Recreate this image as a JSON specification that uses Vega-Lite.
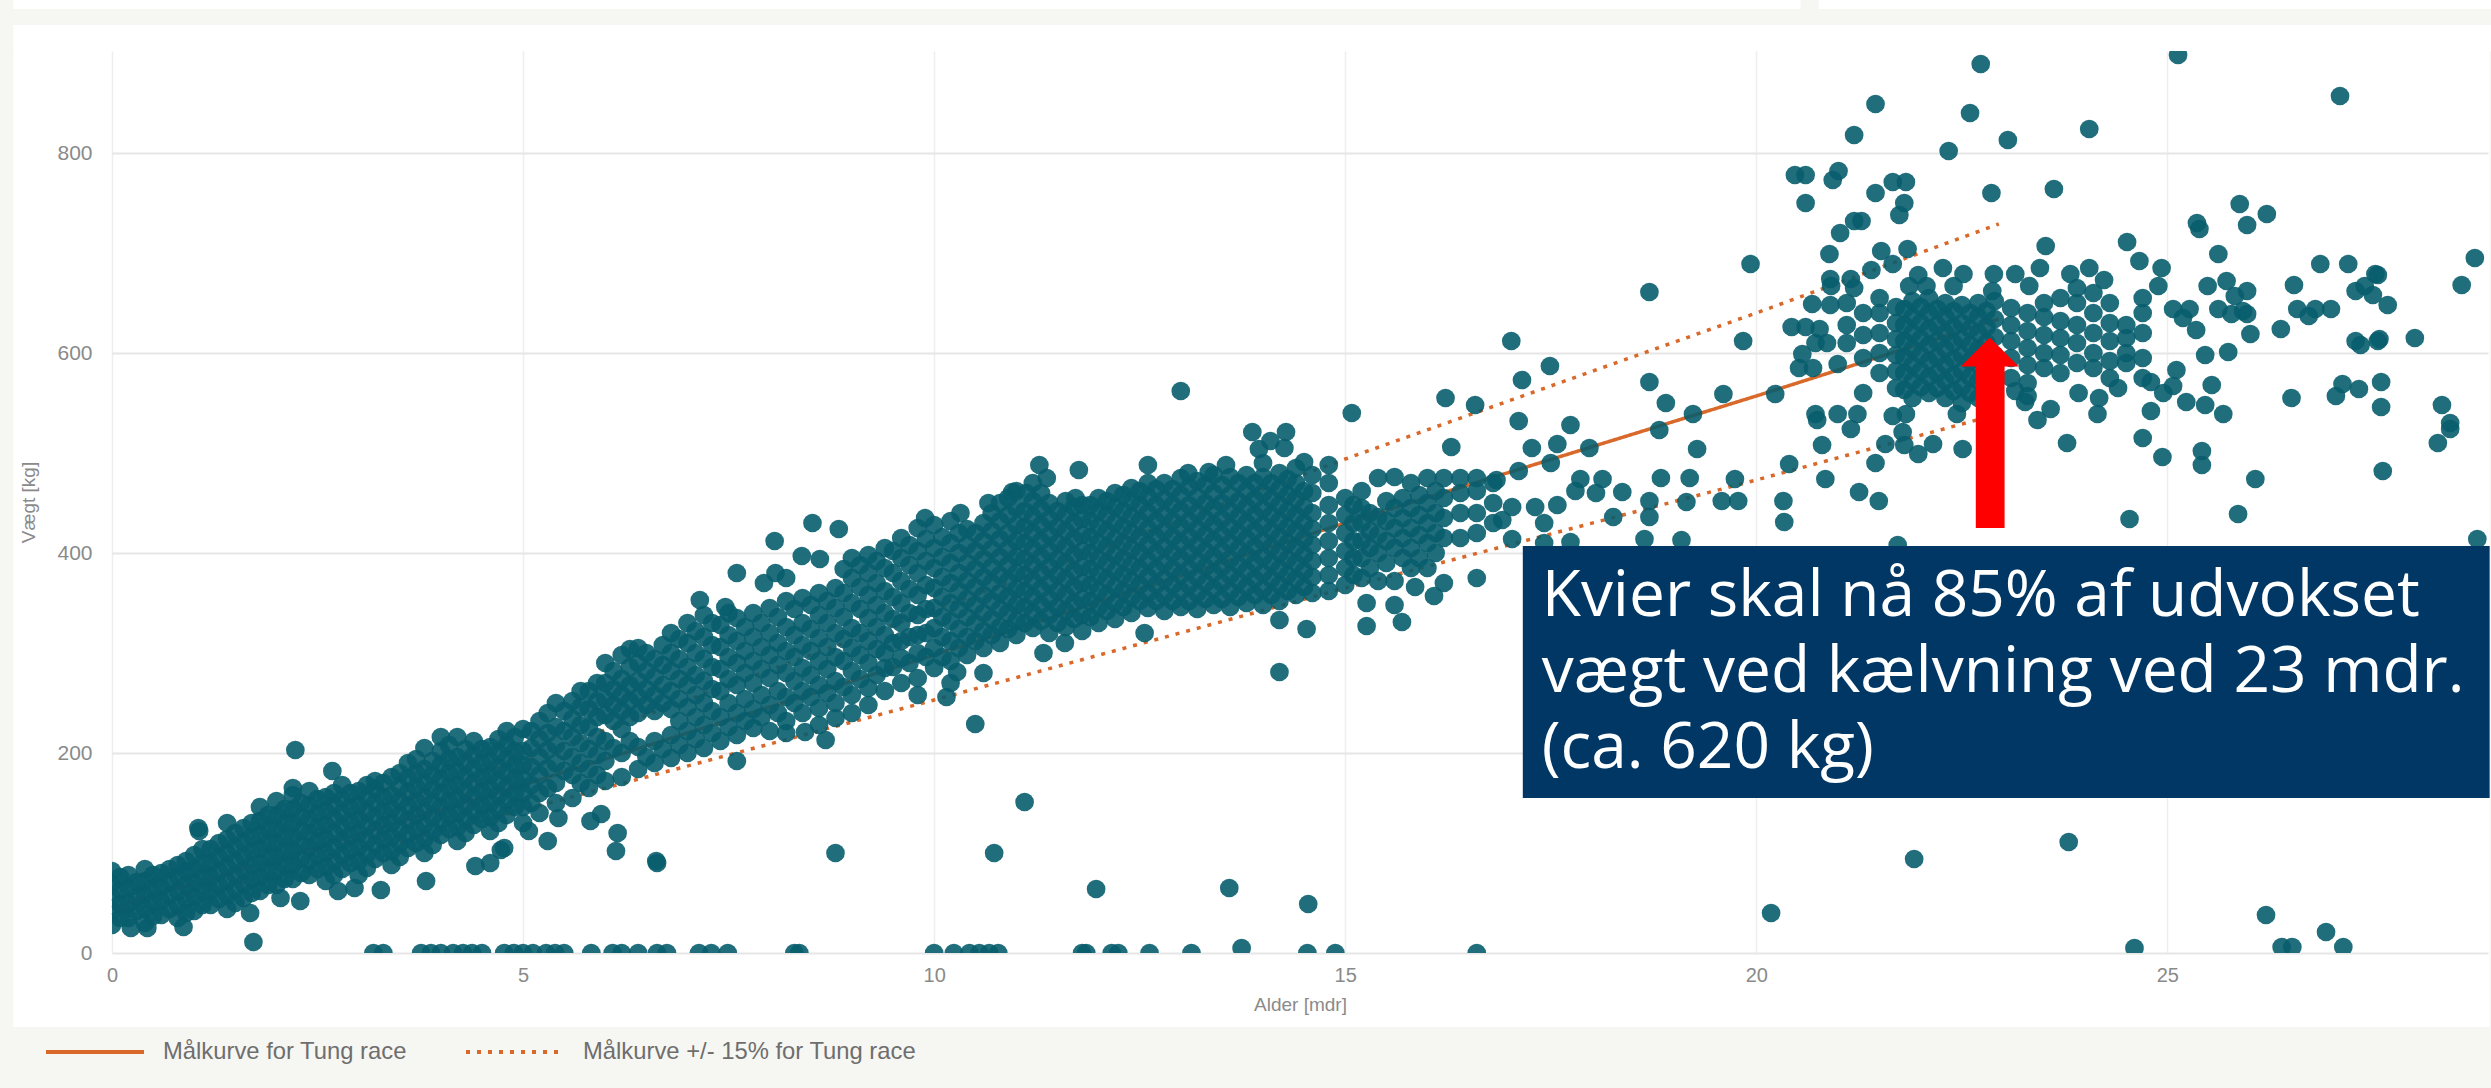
{"$schema":"https://vega.github.io/schema/vega-lite/v6.json","width":2376,"height":902,"autosize":{"type":"none"},"padding":{"left":112,"top":51,"right":3,"bottom":135},"background":"#ffffff","config":{"view":{"stroke":null},"font":"Liberation Sans"},
"encoding":{"x":{"field":"a","type":"quantitative","scale":{"domain":[0,28.9],"nice":false,"zero":false},"axis":{"title":"Alder [mdr]","values":[0,5,10,15,20,25],"grid":true,"gridColor":"#eeeeee","gridWidth":1.5,"domain":false,"ticks":false,"labelFlush":false,"labelPadding":12,"labelFontSize":20,"labelColor":"#8a8a8a","titleFontSize":19,"titleFontWeight":"normal","titleColor":"#8a8a8a","titlePadding":10,"labelFont":"Liberation Sans"}},"y":{"field":"w","type":"quantitative","scale":{"domain":[0,902],"nice":false,"zero":false},"axis":{"title":"Vægt [kg]","values":[0,200,400,600,800],"grid":true,"gridColor":"#e6e6e6","gridWidth":2,"domain":false,"ticks":false,"labelFlush":false,"labelPadding":20,"labelFontSize":21,"labelColor":"#8a8a8a","titleFontSize":19,"titleFontWeight":"normal","titleColor":"#8a8a8a","titlePadding":18,"labelFont":"Liberation Sans"}}},
"layer":[
{"data":{"values":[{"a":-1.37,"a2":28.97,"w":-74,"w2":-135},{"a":-1.37,"a2":-1.2,"w":902,"w2":-135},{"a":-1.37,"a2":28.97,"w":944,"w2":928},{"a":28.92,"a2":28.97,"w":902,"w2":-135},{"a":20.54,"a2":20.76,"w":953,"w2":944},{"a":-1.37,"a2":-1.2,"w":953,"w2":900}]},"mark":{"type":"rect","color":"#f6f6f2"},"encoding":{"x2":{"field":"a2"},"y2":{"field":"w2"}}},
{"data":{"values":[
{"s":"Målkurve for Tung race","c":"m","a":0,"w":45},{"s":"Målkurve for Tung race","c":"m","a":5,"w":168},{"s":"Målkurve for Tung race","c":"m","a":10,"w":298},{"s":"Målkurve for Tung race","c":"m","a":15,"w":430},{"s":"Målkurve for Tung race","c":"m","a":20,"w":557},{"s":"Målkurve for Tung race","c":"m","a":22.95,"w":634},
{"s":"Målkurve +/- 15% for Tung race","c":"u","a":0,"w":52},{"s":"Målkurve +/- 15% for Tung race","c":"u","a":5,"w":193},{"s":"Målkurve +/- 15% for Tung race","c":"u","a":10,"w":343},{"s":"Målkurve +/- 15% for Tung race","c":"u","a":15,"w":494},{"s":"Målkurve +/- 15% for Tung race","c":"u","a":20,"w":640},{"s":"Målkurve +/- 15% for Tung race","c":"u","a":22.95,"w":729},
{"s":"Målkurve +/- 15% for Tung race","c":"l","a":0,"w":38},{"s":"Målkurve +/- 15% for Tung race","c":"l","a":5,"w":143},{"s":"Målkurve +/- 15% for Tung race","c":"l","a":10,"w":253},{"s":"Målkurve +/- 15% for Tung race","c":"l","a":15,"w":365},{"s":"Målkurve +/- 15% for Tung race","c":"l","a":20,"w":473},{"s":"Målkurve +/- 15% for Tung race","c":"l","a":22.95,"w":539}]},
"mark":{"type":"line","color":"#d9682b","strokeWidth":3.5},"encoding":{"detail":{"field":"c"},"strokeDash":{"field":"s","type":"nominal","scale":{"domain":["Målkurve for Tung race","Målkurve +/- 15% for Tung race"],"range":[[1,0],[4,7]]},"legend":{"title":null,"orient":"none","legendX":-68,"legendY":950,"direction":"horizontal","columns":2,"symbolType":"stroke","symbolSize":9604,"symbolStrokeWidth":4,"symbolStrokeColor":"#d9682b","labelFontSize":23.8,"labelColor":"#6e6e6e","labelLimit":700,"labelOffset":17,"columnPadding":51,"padding":0}}}},
{"data":{"values":[
{"a":3.18,"w":0},{"a":3.3,"w":0},{"a":3.76,"w":0},{"a":3.88,"w":0},{"a":4,"w":0},{"a":4.15,"w":0},{"a":4.27,"w":0},{"a":4.38,"w":0},{"a":4.5,"w":0},{"a":4.77,"w":0},{"a":4.89,"w":0},{"a":5,"w":0},{"a":5.12,"w":0},{"a":5.28,"w":0},{"a":5.39,"w":0},{"a":5.5,"w":0},{"a":5.83,"w":0},{"a":6.09,"w":0},{"a":6.2,"w":0},{"a":6.4,"w":0},{"a":6.63,"w":0},{"a":6.75,"w":0},{"a":7.14,"w":0},{"a":7.29,"w":0},{"a":7.49,"w":0},{"a":8.3,"w":0},{"a":8.36,"w":0},{"a":10,"w":0},{"a":10.24,"w":0},{"a":10.43,"w":0},{"a":10.55,"w":0},{"a":10.67,"w":0},{"a":10.78,"w":0},{"a":11.8,"w":0},{"a":11.85,"w":0},{"a":12.16,"w":0},{"a":12.24,"w":0},{"a":12.62,"w":0},{"a":13.13,"w":0},{"a":13.74,"w":5},{"a":14.54,"w":0},{"a":14.88,"w":0},{"a":16.6,"w":0},
{"a":1.68,"w":40},{"a":1.72,"w":11},{"a":6.63,"w":90},{"a":8.8,"w":100},{"a":10.73,"w":100},{"a":11.1,"w":151},{"a":10.5,"w":229},{"a":11.97,"w":64},{"a":13.59,"w":65},{"a":14.55,"w":49},{"a":20.18,"w":40},{"a":21.92,"w":94},{"a":23.8,"w":111},{"a":24.6,"w":5},{"a":26.2,"w":38},{"a":26.39,"w":6},{"a":26.52,"w":6},{"a":26.93,"w":21},{"a":27.14,"w":6},
{"a":0.0,"w":28},{"a":0.0,"w":42},{"a":0.0,"w":56},{"a":0.0,"w":70},{"a":0.0,"w":82},{"a":0.2,"w":35},{"a":0.2,"w":50},{"a":0.2,"w":65},{"a":0.2,"w":78},{"a":0.4,"w":30},{"a":0.4,"w":44},{"a":0.4,"w":58},{"a":0.4,"w":72},{"a":0.4,"w":84},{"a":0.6,"w":38},{"a":0.6,"w":52},{"a":0.6,"w":66},{"a":0.6,"w":80},{"a":0.8,"w":35},{"a":0.8,"w":48},{"a":0.8,"w":62},{"a":0.8,"w":76},{"a":0.8,"w":88},{"a":1,"w":42},{"a":1,"w":56},{"a":1,"w":70},{"a":1,"w":84},{"a":1,"w":98},{"a":1.06,"w":122},{"a":1.2,"w":48},{"a":1.2,"w":62},{"a":1.2,"w":76},{"a":1.2,"w":90},{"a":1.2,"w":104},{"a":1.4,"w":44},{"a":1.4,"w":58},{"a":1.4,"w":72},{"a":1.4,"w":86},{"a":1.4,"w":100},{"a":1.4,"w":114},{"a":1.4,"w":130},{"a":1.6,"w":55},{"a":1.6,"w":69},{"a":1.6,"w":83},{"a":1.6,"w":97},{"a":1.6,"w":111},{"a":1.6,"w":125},{"a":1.8,"w":62},{"a":1.8,"w":76},{"a":1.8,"w":90},{"a":1.8,"w":104},{"a":1.8,"w":118},{"a":1.8,"w":132},{"a":1.8,"w":146},{"a":2,"w":68},{"a":2,"w":82},{"a":2,"w":96},{"a":2,"w":110},{"a":2,"w":124},{"a":2,"w":138},{"a":2,"w":152},{"a":2.2,"w":74},{"a":2.2,"w":88},{"a":2.2,"w":102},{"a":2.2,"w":116},{"a":2.2,"w":130},{"a":2.2,"w":144},{"a":2.2,"w":158},{"a":2.23,"w":203},{"a":2.4,"w":78},{"a":2.4,"w":92},{"a":2.4,"w":106},{"a":2.4,"w":120},{"a":2.4,"w":134},{"a":2.4,"w":148},{"a":2.4,"w":162},{"a":2.6,"w":72},{"a":2.6,"w":86},{"a":2.6,"w":100},{"a":2.6,"w":114},{"a":2.6,"w":128},{"a":2.6,"w":142},{"a":2.6,"w":156},{"a":2.68,"w":182},{"a":2.8,"w":84},{"a":2.8,"w":98},{"a":2.8,"w":112},{"a":2.8,"w":126},{"a":2.8,"w":140},{"a":2.8,"w":154},{"a":2.8,"w":168},{"a":3,"w":78},{"a":3,"w":92},{"a":3,"w":106},{"a":3,"w":120},{"a":3,"w":134},{"a":3,"w":148},{"a":3,"w":162},{"a":3.2,"w":94},{"a":3.2,"w":108},{"a":3.2,"w":122},{"a":3.2,"w":136},{"a":3.2,"w":150},{"a":3.2,"w":164},{"a":3.2,"w":172},{"a":3.4,"w":88},{"a":3.4,"w":102},{"a":3.4,"w":116},{"a":3.4,"w":130},{"a":3.4,"w":144},{"a":3.4,"w":158},{"a":3.4,"w":176},{"a":3.6,"w":105},{"a":3.6,"w":119},{"a":3.6,"w":133},{"a":3.6,"w":147},{"a":3.6,"w":161},{"a":3.6,"w":175},{"a":3.6,"w":190},{"a":3.8,"w":100},{"a":3.8,"w":114},{"a":3.8,"w":128},{"a":3.8,"w":142},{"a":3.8,"w":156},{"a":3.8,"w":170},{"a":3.8,"w":184},{"a":3.8,"w":205},{"a":4,"w":118},{"a":4,"w":132},{"a":4,"w":146},{"a":4,"w":160},{"a":4,"w":174},{"a":4,"w":188},{"a":4,"w":202},{"a":4,"w":216},{"a":4.2,"w":112},{"a":4.2,"w":126},{"a":4.2,"w":140},{"a":4.2,"w":154},{"a":4.2,"w":168},{"a":4.2,"w":182},{"a":4.2,"w":196},{"a":4.2,"w":216},{"a":4.4,"w":128},{"a":4.4,"w":142},{"a":4.4,"w":156},{"a":4.4,"w":170},{"a":4.4,"w":184},{"a":4.4,"w":198},{"a":4.4,"w":212},{"a":4.6,"w":122},{"a":4.6,"w":136},{"a":4.6,"w":150},{"a":4.6,"w":164},{"a":4.6,"w":178},{"a":4.6,"w":192},{"a":4.6,"w":206},{"a":4.8,"w":138},{"a":4.8,"w":152},{"a":4.8,"w":166},{"a":4.8,"w":180},{"a":4.8,"w":194},{"a":4.8,"w":208},{"a":4.8,"w":222},{"a":5,"w":130},{"a":5,"w":146},{"a":5,"w":160},{"a":5,"w":174},{"a":5,"w":188},{"a":5,"w":202},{"a":5,"w":224},
{"a":0.1,"w":35},{"a":0.1,"w":49},{"a":0.1,"w":63},{"a":0.1,"w":76},{"a":0.3,"w":42},{"a":0.3,"w":57},{"a":0.3,"w":71},{"a":0.5,"w":37},{"a":0.5,"w":51},{"a":0.5,"w":65},{"a":0.5,"w":78},{"a":0.7,"w":44},{"a":0.7,"w":58},{"a":0.7,"w":72},{"a":0.7,"w":84},{"a":0.9,"w":40},{"a":0.9,"w":54},{"a":0.9,"w":68},{"a":0.9,"w":82},{"a":0.9,"w":92},{"a":1.1,"w":48},{"a":1.1,"w":62},{"a":1.1,"w":76},{"a":1.1,"w":90},{"a":1.1,"w":104},{"a":1.3,"w":54},{"a":1.3,"w":68},{"a":1.3,"w":82},{"a":1.3,"w":96},{"a":1.3,"w":110},{"a":1.5,"w":50},{"a":1.5,"w":64},{"a":1.5,"w":78},{"a":1.5,"w":92},{"a":1.5,"w":106},{"a":1.5,"w":120},{"a":1.7,"w":60},{"a":1.7,"w":74},{"a":1.7,"w":88},{"a":1.7,"w":102},{"a":1.7,"w":116},{"a":1.7,"w":130},{"a":1.9,"w":68},{"a":1.9,"w":82},{"a":1.9,"w":96},{"a":1.9,"w":110},{"a":1.9,"w":124},{"a":1.9,"w":138},{"a":2.1,"w":74},{"a":2.1,"w":88},{"a":2.1,"w":102},{"a":2.1,"w":116},{"a":2.1,"w":130},{"a":2.1,"w":144},{"a":2.3,"w":80},{"a":2.3,"w":94},{"a":2.3,"w":108},{"a":2.3,"w":122},{"a":2.3,"w":136},{"a":2.3,"w":150},{"a":2.5,"w":84},{"a":2.5,"w":98},{"a":2.5,"w":112},{"a":2.5,"w":126},{"a":2.5,"w":140},{"a":2.5,"w":154},{"a":2.7,"w":78},{"a":2.7,"w":92},{"a":2.7,"w":106},{"a":2.7,"w":120},{"a":2.7,"w":134},{"a":2.7,"w":148},{"a":2.7,"w":160},{"a":2.9,"w":90},{"a":2.9,"w":104},{"a":2.9,"w":118},{"a":2.9,"w":132},{"a":2.9,"w":146},{"a":2.9,"w":160},{"a":3.1,"w":85},{"a":3.1,"w":99},{"a":3.1,"w":113},{"a":3.1,"w":127},{"a":3.1,"w":141},{"a":3.1,"w":155},{"a":3.1,"w":168},{"a":3.3,"w":100},{"a":3.3,"w":114},{"a":3.3,"w":128},{"a":3.3,"w":142},{"a":3.3,"w":156},{"a":3.3,"w":170},{"a":3.5,"w":96},{"a":3.5,"w":110},{"a":3.5,"w":124},{"a":3.5,"w":138},{"a":3.5,"w":152},{"a":3.5,"w":166},{"a":3.5,"w":180},{"a":3.7,"w":110},{"a":3.7,"w":124},{"a":3.7,"w":138},{"a":3.7,"w":152},{"a":3.7,"w":166},{"a":3.7,"w":180},{"a":3.7,"w":194},{"a":3.9,"w":108},{"a":3.9,"w":122},{"a":3.9,"w":136},{"a":3.9,"w":150},{"a":3.9,"w":164},{"a":3.9,"w":178},{"a":3.9,"w":192},{"a":4.1,"w":124},{"a":4.1,"w":138},{"a":4.1,"w":152},{"a":4.1,"w":166},{"a":4.1,"w":180},{"a":4.1,"w":194},{"a":4.1,"w":208},{"a":4.3,"w":120},{"a":4.3,"w":134},{"a":4.3,"w":148},{"a":4.3,"w":162},{"a":4.3,"w":176},{"a":4.3,"w":190},{"a":4.3,"w":204},{"a":4.5,"w":134},{"a":4.5,"w":148},{"a":4.5,"w":162},{"a":4.5,"w":176},{"a":4.5,"w":190},{"a":4.5,"w":204},{"a":4.7,"w":130},{"a":4.7,"w":144},{"a":4.7,"w":158},{"a":4.7,"w":172},{"a":4.7,"w":186},{"a":4.7,"w":200},{"a":4.7,"w":214},{"a":4.9,"w":146},{"a":4.9,"w":160},{"a":4.9,"w":174},{"a":4.9,"w":188},{"a":4.9,"w":202},{"a":4.9,"w":216},
{"a":0.87,"w":26},{"a":0.43,"w":25},{"a":0.23,"w":25},{"a":2.29,"w":52},{"a":2.05,"w":55},{"a":2.75,"w":62},{"a":2.95,"w":65},{"a":3.27,"w":63},{"a":3.82,"w":72},{"a":4.42,"w":87},{"a":4.6,"w":90},{"a":4.73,"w":103},{"a":4.77,"w":105},{"a":5.07,"w":122},{"a":5.3,"w":112},{"a":6.13,"w":102},{"a":6.15,"w":120},{"a":6.62,"w":92},{"a":5.82,"w":132},{"a":5.95,"w":139},{"a":5.43,"w":135},{"a":1.05,"w":125},{"a":2.2,"w":165},
{"a":5.1,"w":150},{"a":5.1,"w":168},{"a":5.1,"w":186},{"a":5.1,"w":205},{"a":5.1,"w":222},{"a":5.3,"w":165},{"a":5.3,"w":185},{"a":5.3,"w":203},{"a":5.3,"w":220},{"a":5.3,"w":240},{"a":5.5,"w":182},{"a":5.5,"w":202},{"a":5.5,"w":222},{"a":5.5,"w":242},{"a":5.7,"w":170},{"a":5.7,"w":190},{"a":5.7,"w":210},{"a":5.7,"w":228},{"a":5.7,"w":246},{"a":5.7,"w":262},{"a":5.9,"w":178},{"a":5.9,"w":198},{"a":5.9,"w":216},{"a":5.9,"w":236},{"a":5.9,"w":252},{"a":5.9,"w":270},{"a":6.1,"w":205},{"a":6.1,"w":232},{"a":6.1,"w":248},{"a":6.1,"w":264},{"a":6.1,"w":282},{"a":6.3,"w":212},{"a":6.3,"w":236},{"a":6.3,"w":252},{"a":6.3,"w":268},{"a":6.3,"w":286},{"a":6.3,"w":304},{"a":6.5,"w":196},{"a":6.5,"w":248},{"a":6.5,"w":264},{"a":6.5,"w":282},{"a":6.5,"w":300},{"a":6.7,"w":204},{"a":6.7,"w":250},{"a":6.7,"w":268},{"a":6.7,"w":288},{"a":6.7,"w":308},{"a":6.9,"w":208},{"a":6.9,"w":232},{"a":6.9,"w":254},{"a":6.9,"w":274},{"a":6.9,"w":294},{"a":6.9,"w":314},{"a":7.1,"w":214},{"a":7.1,"w":236},{"a":7.1,"w":258},{"a":7.1,"w":278},{"a":7.1,"w":300},{"a":7.1,"w":322},{"a":7.3,"w":220},{"a":7.3,"w":242},{"a":7.3,"w":264},{"a":7.3,"w":286},{"a":7.3,"w":308},{"a":7.3,"w":330},{"a":7.5,"w":226},{"a":7.5,"w":250},{"a":7.5,"w":274},{"a":7.5,"w":296},{"a":7.5,"w":318},{"a":7.5,"w":340},{"a":7.7,"w":232},{"a":7.7,"w":254},{"a":7.7,"w":280},{"a":7.7,"w":302},{"a":7.7,"w":326},{"a":7.9,"w":236},{"a":7.9,"w":258},{"a":7.9,"w":284},{"a":7.9,"w":306},{"a":7.9,"w":330},{"a":8.1,"w":240},{"a":8.1,"w":262},{"a":8.1,"w":288},{"a":8.1,"w":310},{"a":8.1,"w":336},{"a":8.3,"w":250},{"a":8.3,"w":272},{"a":8.3,"w":296},{"a":8.3,"w":318},{"a":8.3,"w":344},{"a":8.5,"w":256},{"a":8.5,"w":278},{"a":8.5,"w":302},{"a":8.5,"w":324},{"a":8.5,"w":348},{"a":8.7,"w":260},{"a":8.7,"w":284},{"a":8.7,"w":306},{"a":8.7,"w":330},{"a":8.7,"w":352},{"a":8.9,"w":266},{"a":8.9,"w":292},{"a":8.9,"w":314},{"a":8.9,"w":336},{"a":8.9,"w":360},{"a":8.9,"w":384},{"a":9.1,"w":274},{"a":9.1,"w":298},{"a":9.1,"w":320},{"a":9.1,"w":344},{"a":9.1,"w":366},{"a":9.1,"w":388},{"a":9.3,"w":278},{"a":9.3,"w":304},{"a":9.3,"w":326},{"a":9.3,"w":348},{"a":9.3,"w":370},{"a":9.3,"w":392},{"a":9.5,"w":286},{"a":9.5,"w":310},{"a":9.5,"w":334},{"a":9.5,"w":356},{"a":9.5,"w":380},{"a":9.5,"w":402},{"a":9.7,"w":290},{"a":9.7,"w":316},{"a":9.7,"w":340},{"a":9.7,"w":364},{"a":9.7,"w":388},{"a":9.7,"w":408},{"a":9.9,"w":296},{"a":9.9,"w":320},{"a":9.9,"w":344},{"a":9.9,"w":368},{"a":9.9,"w":392},{"a":9.9,"w":414},{"a":15.1,"w":378},{"a":15.1,"w":395},{"a":15.1,"w":412},{"a":15.1,"w":430},{"a":15.1,"w":448},{"a":15.3,"w":385},{"a":15.3,"w":405},{"a":15.3,"w":422},{"a":15.3,"w":440},{"a":15.5,"w":390},{"a":15.5,"w":412},{"a":15.5,"w":432},{"a":15.5,"w":452},{"a":15.7,"w":395},{"a":15.7,"w":415},{"a":15.7,"w":435},{"a":15.7,"w":455},{"a":15.9,"w":395},{"a":15.9,"w":418},{"a":15.9,"w":438},{"a":15.9,"w":458},{"a":16.1,"w":400},{"a":16.1,"w":420},{"a":16.1,"w":440},{"a":16.1,"w":462},
{"a":5.2,"w":140},{"a":5.2,"w":160},{"a":5.2,"w":178},{"a":5.2,"w":196},{"a":5.2,"w":214},{"a":5.2,"w":232},{"a":5.4,"w":150},{"a":5.4,"w":170},{"a":5.4,"w":190},{"a":5.4,"w":208},{"a":5.4,"w":226},{"a":5.4,"w":250},{"a":5.6,"w":155},{"a":5.6,"w":178},{"a":5.6,"w":196},{"a":5.6,"w":216},{"a":5.6,"w":234},{"a":5.6,"w":252},{"a":5.8,"w":165},{"a":5.8,"w":184},{"a":5.8,"w":204},{"a":5.8,"w":226},{"a":5.8,"w":244},{"a":5.8,"w":262},{"a":6,"w":172},{"a":6,"w":192},{"a":6,"w":212},{"a":6,"w":238},{"a":6,"w":254},{"a":6,"w":270},{"a":6,"w":290},{"a":6.2,"w":176},{"a":6.2,"w":200},{"a":6.2,"w":224},{"a":6.2,"w":242},{"a":6.2,"w":258},{"a":6.2,"w":274},{"a":6.2,"w":298},{"a":6.4,"w":184},{"a":6.4,"w":206},{"a":6.4,"w":240},{"a":6.4,"w":256},{"a":6.4,"w":272},{"a":6.4,"w":290},{"a":6.4,"w":305},{"a":6.6,"w":190},{"a":6.6,"w":212},{"a":6.6,"w":242},{"a":6.6,"w":258},{"a":6.6,"w":276},{"a":6.6,"w":294},{"a":6.8,"w":195},{"a":6.8,"w":218},{"a":6.8,"w":244},{"a":6.8,"w":262},{"a":6.8,"w":282},{"a":6.8,"w":300},{"a":6.8,"w":320},{"a":7,"w":200},{"a":7,"w":222},{"a":7,"w":246},{"a":7,"w":268},{"a":7,"w":286},{"a":7,"w":310},{"a":7,"w":330},{"a":7.15,"w":353},{"a":7.46,"w":346},{"a":7.6,"w":380},{"a":8.06,"w":412},{"a":8.52,"w":430},{"a":8.84,"w":424},{"a":8.39,"w":397},{"a":8.61,"w":394},{"a":8.07,"w":380},{"a":7.93,"w":370},{"a":8.2,"w":375},
{"a":7.2,"w":205},{"a":7.2,"w":228},{"a":7.2,"w":250},{"a":7.2,"w":272},{"a":7.2,"w":294},{"a":7.2,"w":316},{"a":7.2,"w":338},{"a":7.4,"w":212},{"a":7.4,"w":236},{"a":7.4,"w":262},{"a":7.4,"w":284},{"a":7.4,"w":306},{"a":7.4,"w":328},{"a":7.6,"w":192},{"a":7.6,"w":218},{"a":7.6,"w":240},{"a":7.6,"w":268},{"a":7.6,"w":290},{"a":7.6,"w":312},{"a":7.6,"w":335},{"a":7.8,"w":225},{"a":7.8,"w":244},{"a":7.8,"w":270},{"a":7.8,"w":292},{"a":7.8,"w":316},{"a":7.8,"w":340},{"a":8,"w":222},{"a":8,"w":248},{"a":8,"w":275},{"a":8,"w":298},{"a":8,"w":320},{"a":8,"w":345},{"a":8.2,"w":220},{"a":8.2,"w":232},{"a":8.2,"w":256},{"a":8.2,"w":280},{"a":8.2,"w":302},{"a":8.2,"w":326},{"a":8.2,"w":352},{"a":8.4,"w":240},{"a":8.4,"w":262},{"a":8.4,"w":285},{"a":8.4,"w":308},{"a":8.4,"w":330},{"a":8.4,"w":355},{"a":8.6,"w":228},{"a":8.6,"w":245},{"a":8.6,"w":268},{"a":8.6,"w":292},{"a":8.6,"w":315},{"a":8.6,"w":338},{"a":8.6,"w":360},{"a":8.8,"w":235},{"a":8.8,"w":250},{"a":8.8,"w":272},{"a":8.8,"w":296},{"a":8.8,"w":320},{"a":8.8,"w":345},{"a":8.8,"w":365},{"a":9,"w":240},{"a":9,"w":258},{"a":9,"w":282},{"a":9,"w":305},{"a":9,"w":325},{"a":9,"w":350},{"a":9,"w":375},{"a":9,"w":395},{"a":9.2,"w":248},{"a":9.2,"w":265},{"a":9.2,"w":290},{"a":9.2,"w":312},{"a":9.2,"w":335},{"a":9.2,"w":358},{"a":9.2,"w":380},{"a":9.2,"w":398},{"a":9.4,"w":262},{"a":9.4,"w":285},{"a":9.4,"w":300},{"a":9.4,"w":318},{"a":9.4,"w":340},{"a":9.4,"w":362},{"a":9.4,"w":385},{"a":9.4,"w":405},{"a":9.6,"w":270},{"a":9.6,"w":295},{"a":9.6,"w":312},{"a":9.6,"w":330},{"a":9.6,"w":350},{"a":9.6,"w":372},{"a":9.6,"w":395},{"a":9.6,"w":415},{"a":9.8,"w":258},{"a":9.8,"w":275},{"a":9.8,"w":300},{"a":9.8,"w":318},{"a":9.8,"w":338},{"a":9.8,"w":358},{"a":9.8,"w":380},{"a":9.8,"w":402},{"a":9.8,"w":425},
{"a":10,"w":285},{"a":10,"w":305},{"a":10,"w":325},{"a":10,"w":345},{"a":10,"w":365},{"a":10,"w":385},{"a":10,"w":405},{"a":10,"w":428},{"a":10.2,"w":270},{"a":10.2,"w":292},{"a":10.2,"w":312},{"a":10.2,"w":332},{"a":10.2,"w":350},{"a":10.2,"w":370},{"a":10.2,"w":390},{"a":10.2,"w":410},{"a":10.2,"w":432},{"a":10.4,"w":298},{"a":10.4,"w":316},{"a":10.4,"w":336},{"a":10.4,"w":354},{"a":10.4,"w":372},{"a":10.4,"w":390},{"a":10.4,"w":408},{"a":10.4,"w":424},{"a":10.6,"w":280},{"a":10.6,"w":305},{"a":10.6,"w":322},{"a":10.6,"w":340},{"a":10.6,"w":358},{"a":10.6,"w":376},{"a":10.6,"w":394},{"a":10.6,"w":412},{"a":10.6,"w":430},{"a":10.8,"w":310},{"a":10.8,"w":326},{"a":10.8,"w":344},{"a":10.8,"w":360},{"a":10.8,"w":378},{"a":10.8,"w":396},{"a":10.8,"w":414},{"a":10.8,"w":432},{"a":10.8,"w":450},{"a":11,"w":318},{"a":11,"w":332},{"a":11,"w":348},{"a":11,"w":364},{"a":11,"w":380},{"a":11,"w":396},{"a":11,"w":412},{"a":11,"w":428},{"a":11,"w":445},{"a":11,"w":462},{"a":11.2,"w":325},{"a":11.2,"w":340},{"a":11.2,"w":356},{"a":11.2,"w":372},{"a":11.2,"w":388},{"a":11.2,"w":404},{"a":11.2,"w":420},{"a":11.2,"w":436},{"a":11.2,"w":452},{"a":11.2,"w":470},
{"a":10.1,"w":296},{"a":10.1,"w":316},{"a":10.1,"w":336},{"a":10.1,"w":356},{"a":10.1,"w":376},{"a":10.1,"w":396},{"a":10.1,"w":416},{"a":10.3,"w":305},{"a":10.3,"w":324},{"a":10.3,"w":344},{"a":10.3,"w":362},{"a":10.3,"w":380},{"a":10.3,"w":400},{"a":10.3,"w":420},{"a":10.5,"w":312},{"a":10.5,"w":330},{"a":10.5,"w":348},{"a":10.5,"w":366},{"a":10.5,"w":384},{"a":10.5,"w":402},{"a":10.5,"w":420},{"a":10.7,"w":318},{"a":10.7,"w":334},{"a":10.7,"w":352},{"a":10.7,"w":370},{"a":10.7,"w":386},{"a":10.7,"w":404},{"a":10.7,"w":422},{"a":10.7,"w":440},{"a":10.9,"w":324},{"a":10.9,"w":340},{"a":10.9,"w":356},{"a":10.9,"w":372},{"a":10.9,"w":388},{"a":10.9,"w":404},{"a":10.9,"w":420},{"a":10.9,"w":438},{"a":10.9,"w":455},{"a":11.1,"w":330},{"a":11.1,"w":346},{"a":11.1,"w":362},{"a":11.1,"w":378},{"a":11.1,"w":394},{"a":11.1,"w":410},{"a":11.1,"w":426},{"a":11.1,"w":442},{"a":11.3,"w":332},{"a":11.3,"w":348},{"a":11.3,"w":364},{"a":11.3,"w":380},{"a":11.3,"w":396},{"a":11.3,"w":412},{"a":11.3,"w":428},{"a":11.3,"w":444},{"a":11.3,"w":460},
{"a":11.5,"w":330},{"a":11.5,"w":346},{"a":11.5,"w":362},{"a":11.5,"w":378},{"a":11.5,"w":394},{"a":11.5,"w":410},{"a":11.5,"w":426},{"a":11.5,"w":442},{"a":11.7,"w":334},{"a":11.7,"w":350},{"a":11.7,"w":366},{"a":11.7,"w":382},{"a":11.7,"w":398},{"a":11.7,"w":414},{"a":11.7,"w":430},{"a":11.7,"w":446},{"a":11.9,"w":336},{"a":11.9,"w":352},{"a":11.9,"w":368},{"a":11.9,"w":384},{"a":11.9,"w":400},{"a":11.9,"w":416},{"a":11.9,"w":432},{"a":11.9,"w":448},{"a":12.1,"w":342},{"a":12.1,"w":358},{"a":12.1,"w":374},{"a":12.1,"w":390},{"a":12.1,"w":406},{"a":12.1,"w":422},{"a":12.1,"w":438},{"a":12.1,"w":452},{"a":12.3,"w":346},{"a":12.3,"w":362},{"a":12.3,"w":378},{"a":12.3,"w":394},{"a":12.3,"w":410},{"a":12.3,"w":426},{"a":12.3,"w":442},{"a":12.3,"w":458},{"a":12.5,"w":352},{"a":12.5,"w":368},{"a":12.5,"w":384},{"a":12.5,"w":400},{"a":12.5,"w":416},{"a":12.5,"w":432},{"a":12.5,"w":448},{"a":12.5,"w":462},{"a":12.7,"w":352},{"a":12.7,"w":368},{"a":12.7,"w":384},{"a":12.7,"w":400},{"a":12.7,"w":416},{"a":12.7,"w":432},{"a":12.7,"w":448},{"a":12.7,"w":464},{"a":12.9,"w":352},{"a":12.9,"w":368},{"a":12.9,"w":384},{"a":12.9,"w":400},{"a":12.9,"w":416},{"a":12.9,"w":432},{"a":12.9,"w":448},{"a":12.9,"w":464},{"a":13.1,"w":352},{"a":13.1,"w":368},{"a":13.1,"w":384},{"a":13.1,"w":400},{"a":13.1,"w":416},{"a":13.1,"w":432},{"a":13.1,"w":448},{"a":13.1,"w":466},{"a":13.3,"w":354},{"a":13.3,"w":370},{"a":13.3,"w":386},{"a":13.3,"w":402},{"a":13.3,"w":418},{"a":13.3,"w":434},{"a":13.3,"w":450},{"a":13.3,"w":468},{"a":13.5,"w":354},{"a":13.5,"w":370},{"a":13.5,"w":386},{"a":13.5,"w":402},{"a":13.5,"w":418},{"a":13.5,"w":434},{"a":13.5,"w":450},{"a":13.5,"w":468},{"a":13.7,"w":356},{"a":13.7,"w":372},{"a":13.7,"w":388},{"a":13.7,"w":404},{"a":13.7,"w":420},{"a":13.7,"w":436},{"a":13.7,"w":452},{"a":13.7,"w":470},{"a":13.9,"w":358},{"a":13.9,"w":374},{"a":13.9,"w":390},{"a":13.9,"w":406},{"a":13.9,"w":422},{"a":13.9,"w":438},{"a":13.9,"w":454},{"a":13.9,"w":470},{"a":14.1,"w":358},{"a":14.1,"w":374},{"a":14.1,"w":390},{"a":14.1,"w":406},{"a":14.1,"w":422},{"a":14.1,"w":438},{"a":14.1,"w":454},{"a":14.1,"w":470},{"a":14.3,"w":362},{"a":14.3,"w":378},{"a":14.3,"w":394},{"a":14.3,"w":410},{"a":14.3,"w":426},{"a":14.3,"w":442},{"a":14.3,"w":458},{"a":14.3,"w":474},{"a":14.5,"w":366},{"a":14.5,"w":382},{"a":14.5,"w":398},{"a":14.5,"w":414},{"a":14.5,"w":430},{"a":14.5,"w":446},{"a":14.5,"w":462},
{"a":11.4,"w":320},{"a":11.4,"w":338},{"a":11.4,"w":354},{"a":11.4,"w":370},{"a":11.4,"w":386},{"a":11.4,"w":402},{"a":11.4,"w":418},{"a":11.4,"w":434},{"a":11.4,"w":450},{"a":11.6,"w":326},{"a":11.6,"w":342},{"a":11.6,"w":358},{"a":11.6,"w":374},{"a":11.6,"w":390},{"a":11.6,"w":406},{"a":11.6,"w":422},{"a":11.6,"w":438},{"a":11.6,"w":452},{"a":11.8,"w":322},{"a":11.8,"w":338},{"a":11.8,"w":354},{"a":11.8,"w":370},{"a":11.8,"w":386},{"a":11.8,"w":402},{"a":11.8,"w":418},{"a":11.8,"w":434},{"a":11.8,"w":448},{"a":12,"w":330},{"a":12,"w":346},{"a":12,"w":362},{"a":12,"w":378},{"a":12,"w":394},{"a":12,"w":410},{"a":12,"w":426},{"a":12,"w":442},{"a":12,"w":455},{"a":12.2,"w":334},{"a":12.2,"w":350},{"a":12.2,"w":366},{"a":12.2,"w":382},{"a":12.2,"w":398},{"a":12.2,"w":414},{"a":12.2,"w":430},{"a":12.2,"w":446},{"a":12.2,"w":460},{"a":12.4,"w":340},{"a":12.4,"w":356},{"a":12.4,"w":372},{"a":12.4,"w":388},{"a":12.4,"w":404},{"a":12.4,"w":420},{"a":12.4,"w":436},{"a":12.4,"w":452},{"a":12.4,"w":465},{"a":12.6,"w":345},{"a":12.6,"w":360},{"a":12.6,"w":376},{"a":12.6,"w":392},{"a":12.6,"w":408},{"a":12.6,"w":424},{"a":12.6,"w":440},{"a":12.6,"w":456},{"a":12.6,"w":470},{"a":12.8,"w":342},{"a":12.8,"w":358},{"a":12.8,"w":374},{"a":12.8,"w":390},{"a":12.8,"w":406},{"a":12.8,"w":422},{"a":12.8,"w":438},{"a":12.8,"w":454},{"a":12.8,"w":470},{"a":13,"w":346},{"a":13,"w":362},{"a":13,"w":378},{"a":13,"w":394},{"a":13,"w":410},{"a":13,"w":426},{"a":13,"w":442},{"a":13,"w":458},{"a":13,"w":475},{"a":13.2,"w":344},{"a":13.2,"w":360},{"a":13.2,"w":376},{"a":13.2,"w":392},{"a":13.2,"w":408},{"a":13.2,"w":424},{"a":13.2,"w":440},{"a":13.2,"w":456},{"a":13.2,"w":472},{"a":13.4,"w":348},{"a":13.4,"w":364},{"a":13.4,"w":380},{"a":13.4,"w":396},{"a":13.4,"w":412},{"a":13.4,"w":428},{"a":13.4,"w":444},{"a":13.4,"w":460},{"a":13.4,"w":478},{"a":13.6,"w":346},{"a":13.6,"w":362},{"a":13.6,"w":378},{"a":13.6,"w":394},{"a":13.6,"w":410},{"a":13.6,"w":426},{"a":13.6,"w":442},{"a":13.6,"w":458},{"a":13.6,"w":476},{"a":13.8,"w":350},{"a":13.8,"w":366},{"a":13.8,"w":382},{"a":13.8,"w":398},{"a":13.8,"w":414},{"a":13.8,"w":430},{"a":13.8,"w":446},{"a":13.8,"w":462},{"a":13.8,"w":478},{"a":14,"w":348},{"a":14,"w":364},{"a":14,"w":380},{"a":14,"w":396},{"a":14,"w":412},{"a":14,"w":428},{"a":14,"w":444},{"a":14,"w":460},{"a":14,"w":476},{"a":14,"w":490},{"a":14.2,"w":352},{"a":14.2,"w":368},{"a":14.2,"w":384},{"a":14.2,"w":400},{"a":14.2,"w":416},{"a":14.2,"w":432},{"a":14.2,"w":448},{"a":14.2,"w":464},{"a":14.2,"w":480},{"a":14.4,"w":358},{"a":14.4,"w":374},{"a":14.4,"w":390},{"a":14.4,"w":406},{"a":14.4,"w":422},{"a":14.4,"w":438},{"a":14.4,"w":454},{"a":14.4,"w":470},{"a":14.4,"w":485},{"a":14.6,"w":360},{"a":14.6,"w":376},{"a":14.6,"w":392},{"a":14.6,"w":408},{"a":14.6,"w":424},{"a":14.6,"w":440},{"a":14.6,"w":460},{"a":14.6,"w":478},{"a":14.8,"w":362},{"a":14.8,"w":378},{"a":14.8,"w":395},{"a":14.8,"w":412},{"a":14.8,"w":430},{"a":14.8,"w":448},{"a":14.8,"w":470},{"a":15,"w":368},{"a":15,"w":385},{"a":15,"w":402},{"a":15,"w":420},{"a":15,"w":438},{"a":15,"w":455},{"a":15.2,"w":375},{"a":15.2,"w":395},{"a":15.2,"w":412},{"a":15.2,"w":430},{"a":15.2,"w":445},{"a":15.2,"w":462},{"a":15.4,"w":372},{"a":15.4,"w":400},{"a":15.4,"w":418},{"a":15.4,"w":436},{"a":15.4,"w":475},{"a":15.6,"w":372},{"a":15.6,"w":405},{"a":15.6,"w":425},{"a":15.6,"w":445},{"a":15.6,"w":476},{"a":15.8,"w":385},{"a":15.8,"w":405},{"a":15.8,"w":425},{"a":15.8,"w":445},{"a":15.8,"w":470},{"a":16,"w":385},{"a":16,"w":410},{"a":16,"w":430},{"a":16,"w":450},{"a":16,"w":475},{"a":16.2,"w":370},{"a":16.2,"w":415},{"a":16.2,"w":435},{"a":16.2,"w":455},{"a":16.2,"w":475},{"a":16.4,"w":415},{"a":16.4,"w":440},{"a":16.4,"w":460},{"a":16.4,"w":475},{"a":16.6,"w":420},{"a":16.6,"w":440},{"a":16.6,"w":462},{"a":16.6,"w":475},{"a":16.8,"w":430},{"a":16.8,"w":450},{"a":16.8,"w":470},
{"a":9.89,"w":435},{"a":10.32,"w":440},{"a":10.66,"w":450},{"a":10.95,"w":461},{"a":11.12,"w":460},{"a":11.28,"w":488},{"a":11.37,"w":475},{"a":11.76,"w":483},{"a":11.72,"w":455},{"a":12.6,"w":488},{"a":13,"w":562},{"a":13.87,"w":521},{"a":14.09,"w":512},{"a":14.28,"w":521},{"a":13.95,"w":504},{"a":14.26,"w":505},{"a":15.08,"w":540},{"a":16.22,"w":555},{"a":16.58,"w":548},{"a":16.29,"w":506},{"a":13.55,"w":488},{"a":13.09,"w":480},{"a":13.34,"w":481},{"a":14.5,"w":491},{"a":14.8,"w":488},{"a":14.2,"w":281},{"a":14.2,"w":333},{"a":14.53,"w":324},{"a":12.56,"w":320},{"a":11.59,"w":310},{"a":11.33,"w":300},{"a":10.15,"w":256},{"a":10.28,"w":281},{"a":8.68,"w":213},{"a":8.43,"w":221},{"a":15.26,"w":350},{"a":15.26,"w":327},{"a":15.69,"w":331},{"a":15.6,"w":348},{"a":16.08,"w":357},{"a":15.85,"w":366},{"a":16.6,"w":375},
{"a":17.02,"w":612},{"a":17.49,"w":587},{"a":17.15,"w":573},{"a":18.7,"w":661},{"a":18.7,"w":571},{"a":18.9,"w":550},{"a":19.93,"w":689},{"a":19.84,"w":612},{"a":19.6,"w":559},{"a":19.23,"w":539},{"a":18.82,"w":523},{"a":19.28,"w":504},{"a":20.23,"w":559},{"a":17.97,"w":505},{"a":17.58,"w":509},{"a":17.74,"w":528},{"a":17.11,"w":532},{"a":17.27,"w":505},{"a":17.5,"w":490},{"a":20.4,"w":489},{"a":19.74,"w":474},{"a":19.19,"w":475},{"a":18.84,"w":475},{"a":20.84,"w":474},{"a":21.25,"w":461},{"a":21.49,"w":452},{"a":19.58,"w":452},{"a":19.78,"w":452},{"a":19.15,"w":451},{"a":18.7,"w":452},{"a":20.33,"w":452},{"a":20.34,"w":431},{"a":18.7,"w":436},{"a":18.26,"w":436},{"a":17.86,"w":474},{"a":18.13,"w":474},{"a":17.11,"w":482},{"a":16.84,"w":473},{"a":17.8,"w":462},{"a":18.05,"w":460},{"a":18.37,"w":461},{"a":17.58,"w":448},{"a":17.31,"w":446},{"a":17.03,"w":446},{"a":17.42,"w":430},{"a":16.91,"w":433},{"a":18.64,"w":414},{"a":19.09,"w":413},{"a":17.74,"w":411},{"a":17.03,"w":414},{"a":17.42,"w":410},{"a":21.72,"w":408},
{"a":22.73,"w":889},{"a":25.13,"w":898},{"a":27.1,"w":857},{"a":21.45,"w":849},{"a":22.6,"w":840},{"a":21.19,"w":818},{"a":24.05,"w":824},{"a":23.06,"w":813},{"a":22.34,"w":802},{"a":20.47,"w":778},{"a":20.6,"w":778},{"a":21,"w":782},{"a":20.93,"w":773},{"a":21.66,"w":771},{"a":21.82,"w":771},{"a":22.86,"w":760},{"a":23.62,"w":764},{"a":20.6,"w":750},{"a":21.45,"w":760},{"a":21.8,"w":750},{"a":21.74,"w":738},{"a":21.19,"w":732},{"a":21.28,"w":732},{"a":21.02,"w":720},{"a":20.89,"w":699},{"a":21.52,"w":702},{"a":21.84,"w":704},{"a":23.52,"w":707},{"a":24.51,"w":711},{"a":24.66,"w":692},{"a":24.93,"w":685},{"a":24.89,"w":667},{"a":25.62,"w":699},{"a":25.36,"w":730},{"a":25.39,"w":724},{"a":25.88,"w":749},{"a":26.21,"w":739},{"a":25.97,"w":728},{"a":28.74,"w":695},{"a":28.58,"w":668},{"a":27.2,"w":689},{"a":26.86,"w":689},{"a":27.53,"w":679},{"a":27.56,"w":678},{"a":26.54,"w":668},{"a":27.4,"w":667},{"a":27.29,"w":662},{"a":27.5,"w":658},{"a":27.68,"w":648},{"a":26.99,"w":644},{"a":26.8,"w":644},{"a":26.58,"w":644},{"a":26.72,"w":637},{"a":26.38,"w":624},{"a":26.01,"w":619},{"a":28.01,"w":615},{"a":27.29,"w":612},{"a":27.35,"w":608},{"a":27.56,"w":612},{"a":27.58,"w":614},{"a":25.72,"w":672},{"a":25.97,"w":662},{"a":25.49,"w":667},{"a":25.82,"w":657},{"a":25.62,"w":644},{"a":25.78,"w":639},{"a":25.92,"w":642},{"a":25.97,"w":639},{"a":25.07,"w":644},{"a":25.27,"w":644},{"a":25.19,"w":635},{"a":25.35,"w":623},{"a":25.46,"w":598},{"a":25.74,"w":601},{"a":25.11,"w":583},{"a":25.54,"w":568},{"a":25.07,"w":567},{"a":24.95,"w":560},{"a":25.23,"w":551},{"a":25.46,"w":548},{"a":25.68,"w":539},{"a":24.8,"w":542},{"a":24.7,"w":515},{"a":24.94,"w":496},{"a":25.42,"w":502},{"a":25.42,"w":488},{"a":26.07,"w":474},{"a":26.51,"w":555},{"a":27.13,"w":569},{"a":27.33,"w":564},{"a":27.05,"w":557},{"a":27.6,"w":571},{"a":27.6,"w":546},{"a":28.34,"w":548},{"a":28.44,"w":530},{"a":28.44,"w":524},{"a":28.29,"w":510},{"a":27.62,"w":482},{"a":24.54,"w":434},{"a":25.86,"w":439},{"a":28.77,"w":414},
{"a":21.97,"w":678},{"a":22.27,"w":685},{"a":22.52,"w":679},{"a":22.89,"w":679},{"a":23.15,"w":679},{"a":23.45,"w":685},{"a":23.82,"w":679},{"a":24.05,"w":685},{"a":24.23,"w":673},{"a":23.32,"w":667},{"a":22.87,"w":662},{"a":22.4,"w":667},{"a":21.86,"w":667},{"a":22.07,"w":667},{"a":21.66,"w":689},{"a":21.4,"w":683},{"a":21.15,"w":674},{"a":20.9,"w":674},{"a":20.91,"w":667},{"a":21.19,"w":665},{"a":20.68,"w":649},{"a":20.9,"w":648},{"a":20.43,"w":626},{"a":20.6,"w":626},{"a":20.77,"w":624},{"a":20.72,"w":610},{"a":20.86,"w":610},{"a":20.56,"w":599},{"a":20.52,"w":585},{"a":20.69,"w":585},{"a":20.99,"w":589},
{"a":21.1,"w":610},{"a":21.1,"w":628},{"a":21.1,"w":650},{"a":21.3,"w":560},{"a":21.3,"w":595},{"a":21.3,"w":618},{"a":21.3,"w":640},{"a":21.5,"w":580},{"a":21.5,"w":600},{"a":21.5,"w":620},{"a":21.5,"w":640},{"a":21.5,"w":655},{"a":21.7,"w":565},{"a":21.7,"w":582},{"a":21.7,"w":598},{"a":21.7,"w":614},{"a":21.7,"w":630},{"a":21.7,"w":646},{"a":21.9,"w":555},{"a":21.9,"w":572},{"a":21.9,"w":588},{"a":21.9,"w":604},{"a":21.9,"w":620},{"a":21.9,"w":636},{"a":21.9,"w":652},{"a":22.1,"w":560},{"a":22.1,"w":576},{"a":22.1,"w":592},{"a":22.1,"w":608},{"a":22.1,"w":624},{"a":22.1,"w":640},{"a":22.1,"w":655},{"a":22.3,"w":555},{"a":22.3,"w":572},{"a":22.3,"w":588},{"a":22.3,"w":604},{"a":22.3,"w":620},{"a":22.3,"w":636},{"a":22.3,"w":650},{"a":22.5,"w":550},{"a":22.5,"w":566},{"a":22.5,"w":582},{"a":22.5,"w":598},{"a":22.5,"w":614},{"a":22.5,"w":630},{"a":22.5,"w":648},{"a":22.7,"w":555},{"a":22.7,"w":572},{"a":22.7,"w":588},{"a":22.7,"w":604},{"a":22.7,"w":620},{"a":22.7,"w":636},{"a":22.7,"w":650},{"a":22.9,"w":545},{"a":22.9,"w":562},{"a":22.9,"w":580},{"a":22.9,"w":598},{"a":22.9,"w":616},{"a":22.9,"w":634},{"a":22.9,"w":652},{"a":23.1,"w":575},{"a":23.1,"w":595},{"a":23.1,"w":612},{"a":23.1,"w":628},{"a":23.1,"w":645},{"a":23.3,"w":570},{"a":23.3,"w":588},{"a":23.3,"w":605},{"a":23.3,"w":622},{"a":23.3,"w":640},{"a":23.5,"w":585},{"a":23.5,"w":600},{"a":23.5,"w":618},{"a":23.5,"w":636},{"a":23.5,"w":650},{"a":23.7,"w":580},{"a":23.7,"w":598},{"a":23.7,"w":615},{"a":23.7,"w":632},{"a":23.7,"w":655},{"a":23.9,"w":590},{"a":23.9,"w":610},{"a":23.9,"w":628},{"a":23.9,"w":650},{"a":23.9,"w":665},{"a":24.1,"w":585},{"a":24.1,"w":600},{"a":24.1,"w":620},{"a":24.1,"w":640},{"a":24.1,"w":660},{"a":24.3,"w":575},{"a":24.3,"w":592},{"a":24.3,"w":612},{"a":24.3,"w":630},{"a":24.3,"w":650},{"a":24.5,"w":590},{"a":24.5,"w":600},{"a":24.5,"w":615},{"a":24.5,"w":628},{"a":24.7,"w":575},{"a":24.7,"w":595},{"a":24.7,"w":620},{"a":24.7,"w":640},{"a":24.7,"w":655},
{"a":21.8,"w":563},{"a":21.8,"w":580},{"a":21.8,"w":596},{"a":21.8,"w":612},{"a":21.8,"w":628},{"a":21.8,"w":644},{"a":22,"w":566},{"a":22,"w":582},{"a":22,"w":598},{"a":22,"w":614},{"a":22,"w":630},{"a":22,"w":646},{"a":22.2,"w":565},{"a":22.2,"w":580},{"a":22.2,"w":596},{"a":22.2,"w":612},{"a":22.2,"w":628},{"a":22.2,"w":644},{"a":22.4,"w":562},{"a":22.4,"w":578},{"a":22.4,"w":594},{"a":22.4,"w":610},{"a":22.4,"w":626},{"a":22.4,"w":642},{"a":22.6,"w":560},{"a":22.6,"w":576},{"a":22.6,"w":592},{"a":22.6,"w":608},{"a":22.6,"w":624},{"a":22.6,"w":640},{"a":22.8,"w":562},{"a":22.8,"w":578},{"a":22.8,"w":594},{"a":22.8,"w":610},{"a":22.8,"w":626},{"a":22.8,"w":642},
{"a":20.72,"w":539},{"a":20.99,"w":539},{"a":21.23,"w":539},{"a":20.74,"w":533},{"a":21.15,"w":524},{"a":20.8,"w":508},{"a":21.66,"w":537},{"a":21.82,"w":539},{"a":21.78,"w":521},{"a":21.57,"w":509},{"a":21.8,"w":508},{"a":22.15,"w":509},{"a":21.97,"w":499},{"a":21.45,"w":490},{"a":22.51,"w":504},{"a":22.44,"w":539},{"a":23.15,"w":562},{"a":23.3,"w":557},{"a":23.27,"w":551},{"a":23.42,"w":533},{"a":23.58,"w":544},{"a":23.78,"w":510},{"a":23.92,"w":560},{"a":24.17,"w":555},{"a":24.15,"w":539},{"a":24.4,"w":565},{"a":24.8,"w":571}
]},"mark":{"type":"point","filled":true,"clip":true,"size":350,"color":"#085d6d","opacity":0.9}},
{"data":{"values":[{"a":17.16,"a2":28.92,"w":407,"w2":155}]},"mark":{"type":"rect","color":"#003764"},"encoding":{"x2":{"field":"a2"},"y2":{"field":"w2"}}},
{"data":{"values":[{"a":22.67,"a2":23.02,"w":425,"w2":590}]},"mark":{"type":"rect","color":"#ff0000"},"encoding":{"x2":{"field":"a2"},"y2":{"field":"w2"}}},
{"data":{"values":[{"a":22.84,"w":601}]},"mark":{"type":"point","filled":true,"opacity":1,"color":"#ff0000","shape":"M0,-.5L1,.5L-1,.5Z","size":3364}},
{"data":{"values":[{"a":17.39,"w":337,"t":"Kvier skal nå 85% af udvokset"},{"a":17.39,"w":261,"t":"vægt ved kælvning ved 23 mdr."},{"a":17.39,"w":185,"t":"(ca. 620 kg)"}]},"mark":{"type":"text","align":"left","baseline":"alphabetic","font":"Open Sans","fontSize":64,"color":"#ffffff"},"encoding":{"text":{"field":"t"}}}
]}
